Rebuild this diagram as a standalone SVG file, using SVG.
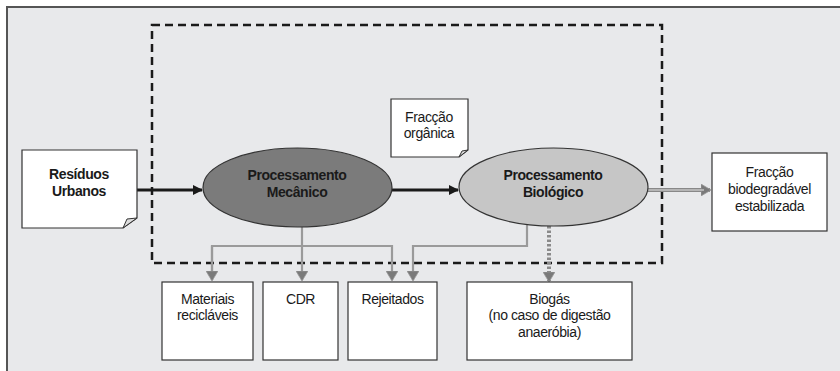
<svg xmlns="http://www.w3.org/2000/svg" width="840" height="371" viewBox="0 0 840 371">
<defs>
<style>
.t{font-family:"Liberation Sans",Arial,sans-serif;font-size:14px;letter-spacing:-0.4px;fill:#1a1a1a;text-anchor:middle}
.b{font-weight:bold}
.box{fill:#fff;stroke:#333;stroke-width:1.2}
.blk{stroke:#1a1a1a;stroke-width:3;fill:none}
.gry{stroke:#9a9a9a;stroke-width:2.2;fill:none}
</style>
<marker id="ah" markerWidth="10" markerHeight="10" refX="9" refY="5" orient="auto" markerUnits="userSpaceOnUse">
<path d="M0,0 L10,5 L0,10 Z" fill="#1a1a1a"/>
</marker>
<marker id="gh" markerWidth="10" markerHeight="12" refX="9" refY="6" orient="auto" markerUnits="userSpaceOnUse">
<path d="M0,0 L10,6 L0,12 Z" fill="#7a7a7a" stroke="#999" stroke-width="0.8"/>
</marker>
</defs>
<rect x="0" y="0" width="840" height="371" fill="#fff"/>
<rect x="6" y="6" width="840" height="371" fill="#e8e9eb"/>
<path d="M7,371 V7 H840" fill="none" stroke="#555" stroke-width="2"/>
<rect id="dashed-region" x="152" y="25" width="510" height="238" fill="none" stroke="#1a1a1a" stroke-width="2.5" stroke-dasharray="8 5"/>

<g id="connectors">
<line class="blk" x1="137" y1="190" x2="202" y2="190" marker-end="url(#ah)"/>
<line class="blk" x1="392" y1="190" x2="458" y2="190" marker-end="url(#ah)"/>
<line x1="648" y1="190" x2="710" y2="190" stroke="#888" stroke-width="4" marker-end="url(#gh)"/>
<line x1="648" y1="190" x2="704" y2="190" stroke="#c4c4c4" stroke-width="1.4"/>
<path class="gry" d="M302,227 V280" marker-end="url(#gh)"/>
<path class="gry" d="M212,280 V246 H392 V280" marker-end="url(#gh)"/>
<path d="M212,246 V280" class="gry" marker-end="url(#gh)"/>
<path class="gry" d="M527,224 V246 H413 V280" marker-end="url(#gh)"/>
<line x1="549" y1="226" x2="549" y2="281" stroke="#8a8a8a" stroke-width="4" stroke-dasharray="2.5 2" marker-end="url(#gh)"/>
</g>

<g id="residuos">
<path class="box" d="M22,150 H137 V218 L123,228 H22 Z"/>
<path d="M123,228 L127,219 L137,218 Z" fill="#ddd" stroke="#333" stroke-width="1"/>
<text class="t b" x="79" y="179">Resíduos</text>
<text class="t b" x="79" y="196">Urbanos</text>
</g>

<g id="fraccao-organica">
<path class="box" d="M391,99 H468 V150 L459,157 H391 Z"/>
<path d="M459,157 L462,151 L468,150 Z" fill="#ddd" stroke="#333" stroke-width="1"/>
<text class="t" x="429" y="122">Fracção</text>
<text class="t" x="429" y="138">orgânica</text>
</g>

<g id="mecanico">
<ellipse cx="297.5" cy="187.5" rx="94.5" ry="39.5" fill="#7b7b7b" stroke="#333" stroke-width="1.2"/>
<text class="t b" x="297" y="180">Processamento</text>
<text class="t b" x="297" y="197">Mecânico</text>
</g>

<g id="biologico">
<ellipse cx="553.5" cy="187" rx="94.5" ry="39" fill="#c6c6c6" stroke="#333" stroke-width="1.2"/>
<text class="t b" x="553" y="180">Processamento</text>
<text class="t b" x="553" y="197">Biológico</text>
</g>

<g id="fraccao-biodegradavel">
<rect class="box" x="712" y="153" width="115" height="78"/>
<text class="t" x="769.5" y="177">Fracção</text>
<text class="t" x="769.5" y="194">biodegradável</text>
<text class="t" x="769.5" y="211">estabilizada</text>
</g>

<g id="materiais">
<rect class="box" x="162" y="282" width="91" height="78"/>
<text class="t" x="207.5" y="304">Materiais</text>
<text class="t" x="207.5" y="320">recicláveis</text>
</g>

<g id="cdr">
<rect class="box" x="263" y="282" width="75" height="78"/>
<text class="t" x="300.5" y="304">CDR</text>
</g>

<g id="rejeitados">
<rect class="box" x="348" y="282" width="89" height="78"/>
<text class="t" x="392.5" y="304">Rejeitados</text>
</g>

<g id="biogas">
<rect class="box" x="467" y="282" width="165" height="78"/>
<text class="t" x="549.5" y="304">Biogás</text>
<text class="t" x="549.5" y="320">(no caso de digestão</text>
<text class="t" x="549.5" y="337">anaeróbia)</text>
</g>
</svg>
